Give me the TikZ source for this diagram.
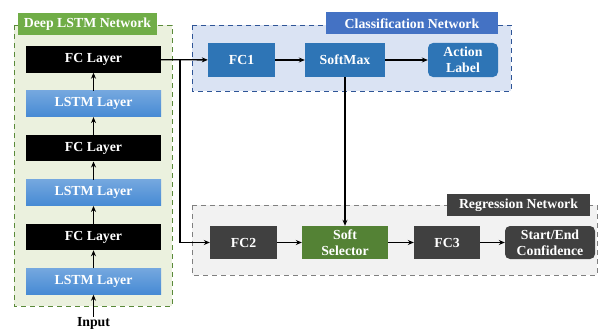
\documentclass[tikz,border=0pt]{standalone}
\usepackage{fontspec}
\setmainfont{Liberation Serif}
\usepackage{xcolor}
\definecolor{lstmblue}{RGB}{70,138,212}
\definecolor{cblue}{RGB}{46,117,182}
\definecolor{tblue}{RGB}{68,114,196}
\definecolor{dblue}{RGB}{47,85,151}
\definecolor{dgray}{RGB}{64,64,64}
\definecolor{sgreen}{RGB}{84,130,53}
\definecolor{tgreen}{RGB}{112,173,71}
\definecolor{lg}{RGB}{235,241,222}
\definecolor{lb}{RGB}{218,227,243}
\definecolor{lgr}{RGB}{242,242,242}
\usetikzlibrary{arrows.meta,positioning}

\begin{document}
\begin{tikzpicture}[
  x=1pt,y=-1pt,
  node distance=18pt and 30pt,
  every node/.style={font=\fontsize{13.8}{16}\selectfont\bfseries,text=white,align=center,inner sep=0pt},
  fcbox/.style={rectangle,fill=black,minimum width=135pt,minimum height=26pt},
  lstmbox/.style={rectangle,top color=lstmblue!75!white,bottom color=lstmblue,minimum width=135pt,minimum height=26pt},
  cbox/.style={rectangle,fill=cblue,minimum width=67pt,minimum height=34pt},
  rbox/.style={rectangle,fill=dgray,minimum width=67pt,minimum height=33pt},
  titlebox/.style={rectangle,minimum height=22pt},
  arrow/.style={-{Stealth[length=6pt,width=5pt]},line width=1.3pt,black}
]
  \useasboundingbox (0,0) rectangle (599,329);

  % Containers
  \draw[tgreen!80!black,dashed,line width=0.9pt,fill=lg,dash pattern=on 5pt off 4pt] (14,25) rectangle (172,306);
  \draw[dblue,dashed,line width=0.9pt,fill=lb,dash pattern=on 5pt off 4pt] (192,25) rectangle (511,91);
  \draw[gray,dashed,line width=0.9pt,fill=lgr,dash pattern=on 5pt off 4pt] (192,205) rectangle (597,275);

  \node[titlebox,fill=tgreen,minimum width=139pt] (tdeep) at (87.5,24) {Deep LSTM Network};
  \node[titlebox,fill=tblue,minimum width=172pt] (tcls) at (412,23.5) {Classification Network};
  \node[titlebox,fill=dgray,minimum width=143pt] (treg) at (518.5,205) {Regression Network};

  % Deep LSTM stack
  \node[lstmbox] (lstm1) at (93.5,281.5) {LSTM Layer};
  \node[fcbox,above=of lstm1] (fcl1) {FC Layer};
  \node[lstmbox,above=of fcl1] (lstm2) {LSTM Layer};
  \node[fcbox,above=of lstm2] (fcl2) {FC Layer};
  \node[lstmbox,above=of fcl2] (lstm3) {LSTM Layer};
  \node[fcbox,above=of lstm3] (fcl3) {FC Layer};
  \node[text=black] (input) at (93.5,323) {Input};

  % Classification
  \node[cbox] (fc1) at (241.5,60) {FC1};
  \node[cbox,minimum width=80pt] (softmax) at (345,60) {SoftMax};
  \node[cbox,minimum width=70pt,rounded corners=5pt] (action) at (463,60) {Action\\Label};

  % Regression
  \node[rbox] (fc2) at (243.5,242.5) {FC2};
  \node[rbox,fill=sgreen,minimum width=86pt] (softsel) at (345,242.5) {Soft\\Selector};
  \node[rbox,minimum width=66pt] (fc3) at (447,242.5) {FC3};
  \node[rbox,minimum width=90pt,rounded corners=5pt] (conf) at (550,242.5) {Start/End\\Confidence};

  \coordinate (split) at (180,60);

  % Arrows
  \draw[arrow] (input) -- (lstm1);
  \draw[arrow] (lstm1) -- (fcl1);
  \draw[arrow] (fcl1) -- (lstm2);
  \draw[arrow] (lstm2) -- (fcl2);
  \draw[arrow] (fcl2) -- (lstm3);
  \draw[arrow] (lstm3) -- (fcl3);
  \draw[arrow] (fcl3) -- (fc1);
  \draw[arrow] (split) |- (fc2);
  \draw[arrow] (fc1) -- (softmax);
  \draw[arrow] (softmax) -- (action);
  \draw[arrow] (softmax) -- (softsel);
  \draw[arrow] (fc2) -- (softsel);
  \draw[arrow] (softsel) -- (fc3);
  \draw[arrow] (fc3) -- (conf);
\end{tikzpicture}
\end{document}
